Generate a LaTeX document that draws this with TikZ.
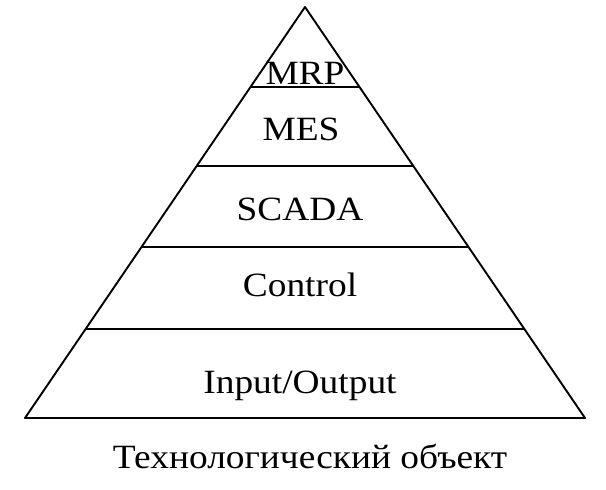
\documentclass[tikz,border=0pt]{standalone}
\usepackage{fontspec}
\setmainfont[FakeStretch=1.1]{Liberation Serif}
\usetikzlibrary{calc}
\begin{document}
\begin{tikzpicture}[x=1pt,y=-1pt,
  edge/.style={line width=1.9pt,line join=round},
  lvl/.style={anchor=base,inner sep=0pt,font=\fontsize{34}{40}\selectfont}]
\useasboundingbox (0,0) rectangle (606,490);
\coordinate (apex) at (305,7);
\coordinate (bl) at (25,418);
\coordinate (br) at (585,418);
\draw[edge] (apex) -- (bl) -- (br) -- cycle;
\foreach \yy/\nm in {87/a,166/b,247/c,329/d}{
  \pgfmathsetmacro{\tt}{(\yy-7)/411}
  \coordinate (l\nm) at ($(apex)!\tt!(bl)$);
  \coordinate (r\nm) at ($(apex)!\tt!(br)$);
  \draw[edge] (l\nm) -- (r\nm);
}
\node[lvl] (mrp) at (305,84) {MRP};
\node[lvl] (mes) at (301,140) {MES};
\node[lvl] (scada) at (300,220) {SCADA};
\node[lvl] (ctrl) at (300,296) {Control};
\node[lvl] (io) at (300,393) {Input/Output};
\node[lvl] (obj) at (310,468) {Технологический объект};
\end{tikzpicture}
\end{document}
